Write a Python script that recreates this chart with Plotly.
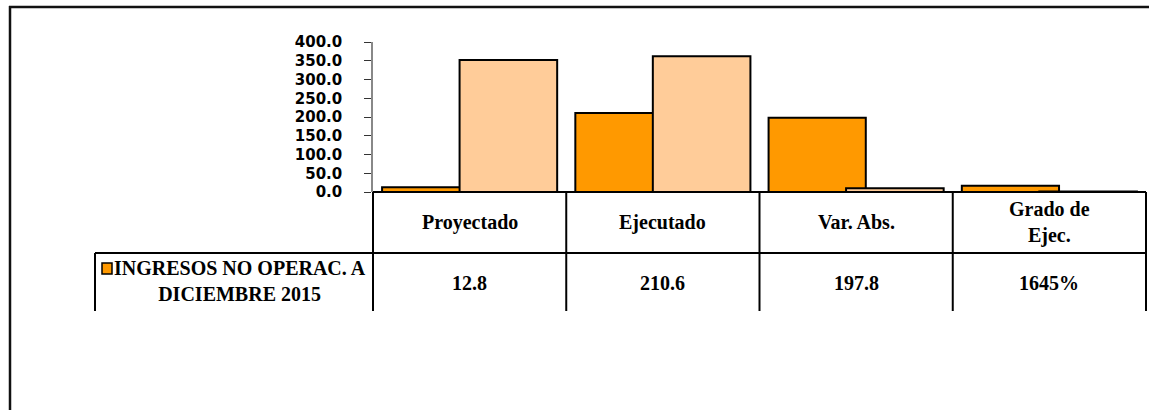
import plotly.graph_objects as go

# ---- data ----
categories = ["Proyectado", "Ejecutado", "Var. Abs.", "Grado de<br>Ejec."]
ingresos_2015 = [12.8, 210.6, 197.8, 16.45]      # orange series (shown in table)
serie_ref = [352.0, 362.0, 10.0, 1.03]           # peach series (not in table)
table_labels = ["12.8", "210.6", "197.8", "1645%"]
series_name = "INGRESOS NO OPERAC. A<br>DICIEMBRE 2015"
y_ticks = [0, 50, 100, 150, 200, 250, 300, 350, 400]

W, H = 1149, 410
L, R, T, B = 373, 1146, 42, 192   # plot area in px
pw, ph = R - L, B - T

def px(x):
    return (x - L) / pw

def py(y):
    return (B - y) / ph

ORANGE = "#FF9900"
PEACH = "#FFCC99"
xs = list(range(len(categories)))

fig = go.Figure()
fig.add_trace(go.Bar(
    x=xs, y=ingresos_2015, width=0.503, offset=-0.453,
    marker=dict(color=ORANGE, line=dict(color="black", width=2)),
    showlegend=False, hoverinfo="y"))
fig.add_trace(go.Bar(
    x=xs, y=serie_ref, width=0.505, offset=-0.052,
    marker=dict(color=PEACH, line=dict(color="black", width=2)),
    showlegend=False, hoverinfo="y"))

shapes = []
line = dict(color="black", width=2)
row1_bot = 253
row2_bot = 311
shapes.append(dict(type="line", xref="paper", yref="paper", x0=0, x1=1,
                   y0=py(B), y1=py(B), line=line))
shapes.append(dict(type="line", xref="paper", yref="paper", x0=px(95), x1=1,
                   y0=py(row1_bot), y1=py(row1_bot), line=line))
ncat = len(categories)
for i in range(ncat + 1):
    xp = i / ncat
    shapes.append(dict(type="line", xref="paper", yref="paper", x0=xp, x1=xp,
                       y0=py(B), y1=py(row2_bot), line=line))
shapes.append(dict(type="line", xref="paper", yref="paper", x0=px(95), x1=px(95),
                   y0=py(row1_bot), y1=py(row2_bot), line=line))
# legend key
shapes.append(dict(type="rect", xref="paper", yref="paper", x0=px(102), x1=px(112),
                   y0=py(274), y1=py(263), fillcolor=ORANGE,
                   line=dict(color="black", width=1.5)))
# outer chart frame
shapes.append(dict(type="line", xref="paper", yref="paper", x0=px(9), x1=px(1200),
                   y0=py(7), y1=py(7), line=dict(color="#111", width=2.5)))
shapes.append(dict(type="line", xref="paper", yref="paper", x0=px(10), x1=px(10),
                   y0=py(6), y1=py(450), line=dict(color="#111", width=2.5)))

ann = []
tfont = dict(family="Liberation Serif", size=20, color="black")
for i, c in enumerate(categories):
    ann.append(dict(x=i, y=py(222), xref="x", yref="paper", text="<b>%s</b>" % c,
                    showarrow=False, font=tfont, xanchor="center", yanchor="middle"))
    ann.append(dict(x=i, y=py(283), xref="x", yref="paper", text="<b>%s</b>" % table_labels[i],
                    showarrow=False, font=tfont, xanchor="center", yanchor="middle"))
ann.append(dict(x=px(240), y=py(281), xref="paper", yref="paper",
                text="<b>%s</b>" % series_name, showarrow=False, font=tfont,
                xanchor="center", yanchor="middle", align="center"))

fig.update_layout(
    width=W, height=H, autosize=False,
    margin=dict(l=L, r=W - R, t=T, b=H - B, pad=0),
    paper_bgcolor="white", plot_bgcolor="white",
    barmode="overlay",
    shapes=shapes, annotations=ann,
    xaxis=dict(range=[-0.5, ncat - 0.5], showticklabels=False,
               showgrid=False, zeroline=False, showline=False, ticks=""),
    yaxis=dict(range=[0, 400], tickvals=y_ticks,
               ticktext=["<b>%.1f</b>" % v for v in y_ticks],
               showgrid=False, zeroline=False, showline=True, linecolor="#888",
               linewidth=1.5, ticks="outside", ticklen=7, tickcolor="#333",
               tickwidth=1, ticklabelstandoff=19,
               tickfont=dict(family="DejaVu Sans", size=15, color="black")),
)
fig.write_html("out.html", config={"displayModeBar": False},
               post_script="document.body.style.margin='0';document.body.style.overflow='hidden';")
